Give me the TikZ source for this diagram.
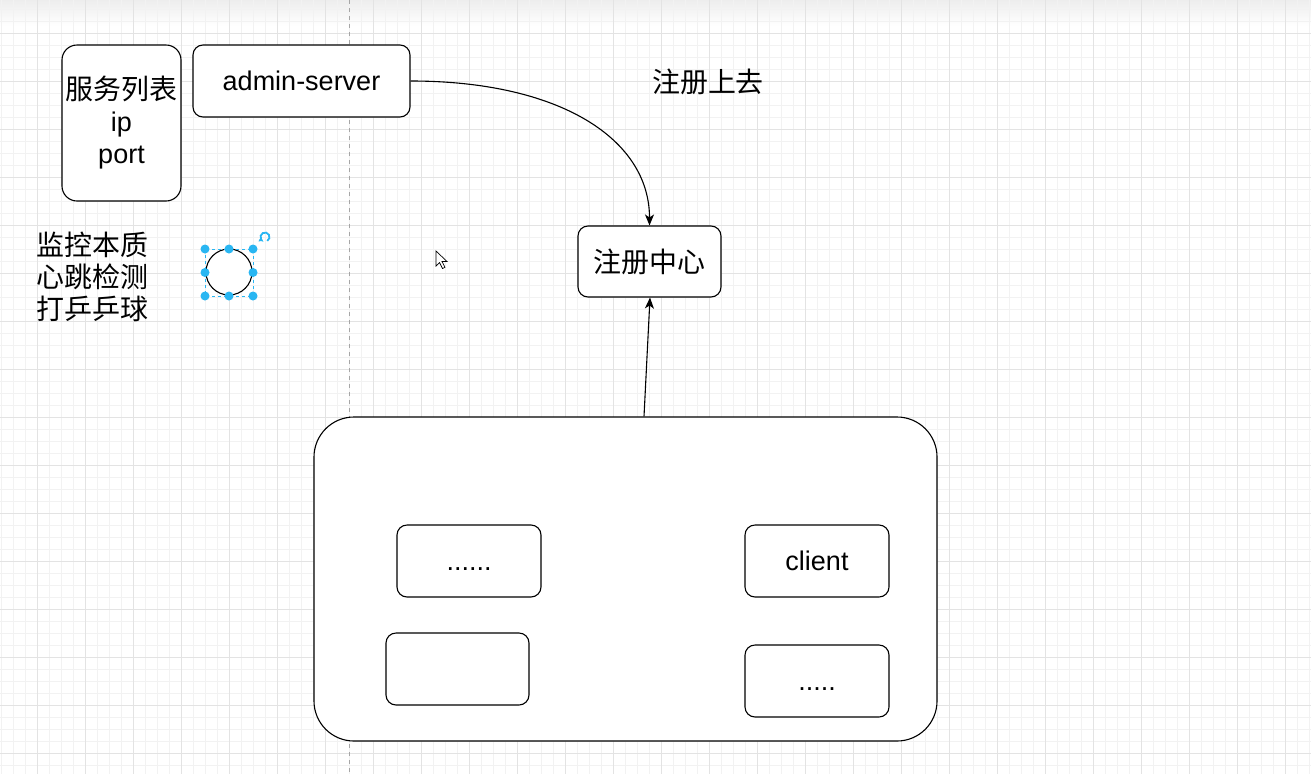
\documentclass[tikz,border=0pt]{standalone}
\usepackage{fontspec}
\setmainfont{Liberation Sans}
\newfontfamily\cjk[Scale=1.035]{Noto Sans CJK SC}
\usetikzlibrary{arrows.meta}
\definecolor{gridminor}{HTML}{F2F2F2}
\definecolor{gridmajor}{HTML}{E3E3E3}
\definecolor{selblue}{HTML}{29B6F2}
\tikzset{
  box/.style={draw=black, line width=1.1pt, fill=white, rounded corners=10pt, inner sep=0pt, align=center},
  lbl/.style={font=\fontsize{27}{32}\selectfont},
  conn/.style={draw=black, line width=1.1pt, -{Stealth[length=11pt,width=9pt,inset=3pt]}},
  handle/.style={circle, fill=selblue, inner sep=0pt, minimum size=9pt},
}
\begin{document}
\begin{tikzpicture}[x=1pt,y=-1pt]
\useasboundingbox (0,0) rectangle (1311,774);
\fill[white] (0,0) rectangle (1311,774);
\shade[top color=black!7, bottom color=white] (0,0) rectangle (1311,26);
% grid
\foreach \x in {1.3,13.3,...,1311} \draw[gridminor, line width=0.8pt] (\x,0) -- (\x,774);
\foreach \y in {9,21,...,774} \draw[gridminor, line width=0.8pt] (0,\y) -- (1311,\y);
\foreach \x in {37.3,85.3,...,1311} \draw[gridmajor, line width=1pt] (\x,0) -- (\x,774);
\foreach \y in {33,81,...,774} \draw[gridmajor, line width=1pt] (0,\y) -- (1311,\y);
\draw[black!35, line width=0.8pt, dash pattern=on 4pt off 4pt] (349,0) -- (349,774);

% nodes
\node[box, rounded corners=15pt, minimum width=119pt, minimum height=156pt, lbl] (svc) at (121.5,123)
  {{\cjk 服务列表}\\ip\\port};
\node[box, minimum width=217pt, minimum height=72pt, lbl] (admin) at (301.5,81) {admin-server};
\node[lbl] (uptxt) at (708,82) {\cjk 注册上去};
\node[box, minimum width=143pt, minimum height=71pt, lbl] (reg) at (649.5,261.5) {\cjk 注册中心};
\node[lbl, align=left, anchor=west, inner sep=0pt] (mon) at (36,277)
  {\cjk 监控本质\\\cjk 心跳检测\\\cjk 打乒乒球};

\node[box, rounded corners=40pt, minimum width=623pt, minimum height=324pt] (big) at (625.5,579) {};
\node[box, minimum width=144pt, minimum height=72pt, lbl] (b1) at (469,561) {\vphantom{cl}......};
\node[box, minimum width=144pt, minimum height=72pt, lbl] (client) at (817,561) {client};
\node[box, minimum width=143pt, minimum height=72pt] (b3) at (457.5,669) {};
\node[box, minimum width=144pt, minimum height=72pt, lbl] (b4) at (817,681) {\vphantom{cl}.....};

% connectors
\draw[conn] (admin.east) .. controls +(150,0) and +(0,-86) .. (reg.north);
\draw[conn] ([xshift=18.5pt]big.north) -- ([xshift=0.5pt]reg.south);

% selected circle
\node[circle, draw=black, line width=1.1pt, fill=white, minimum size=46pt, inner sep=0pt] (circ) at (229,272) {};
\draw[selblue, line width=0.8pt, dash pattern=on 3pt off 3pt] (205,249) rectangle (253,296);
\foreach \p in {(205,249),(229,249),(253,249),(205,272.5),(253,272.5),(205,296),(229,296),(253,296)}
  \node[handle] at \p {};
\draw[selblue, line width=1.8pt, -{Triangle[length=3.5pt,width=5pt]}] (265,237) ++(-60:4.5pt) arc[start angle=-60, end angle=240, radius=4.5pt];

% cursor
\draw[black, fill=white, line width=0.7pt, line join=miter]
  (436,251) -- (436,266) -- (439.5,262.5) -- (442.5,268.5) -- (445,267.3) -- (442,261.5) -- (447,261.5) -- cycle;
\end{tikzpicture}
\end{document}
